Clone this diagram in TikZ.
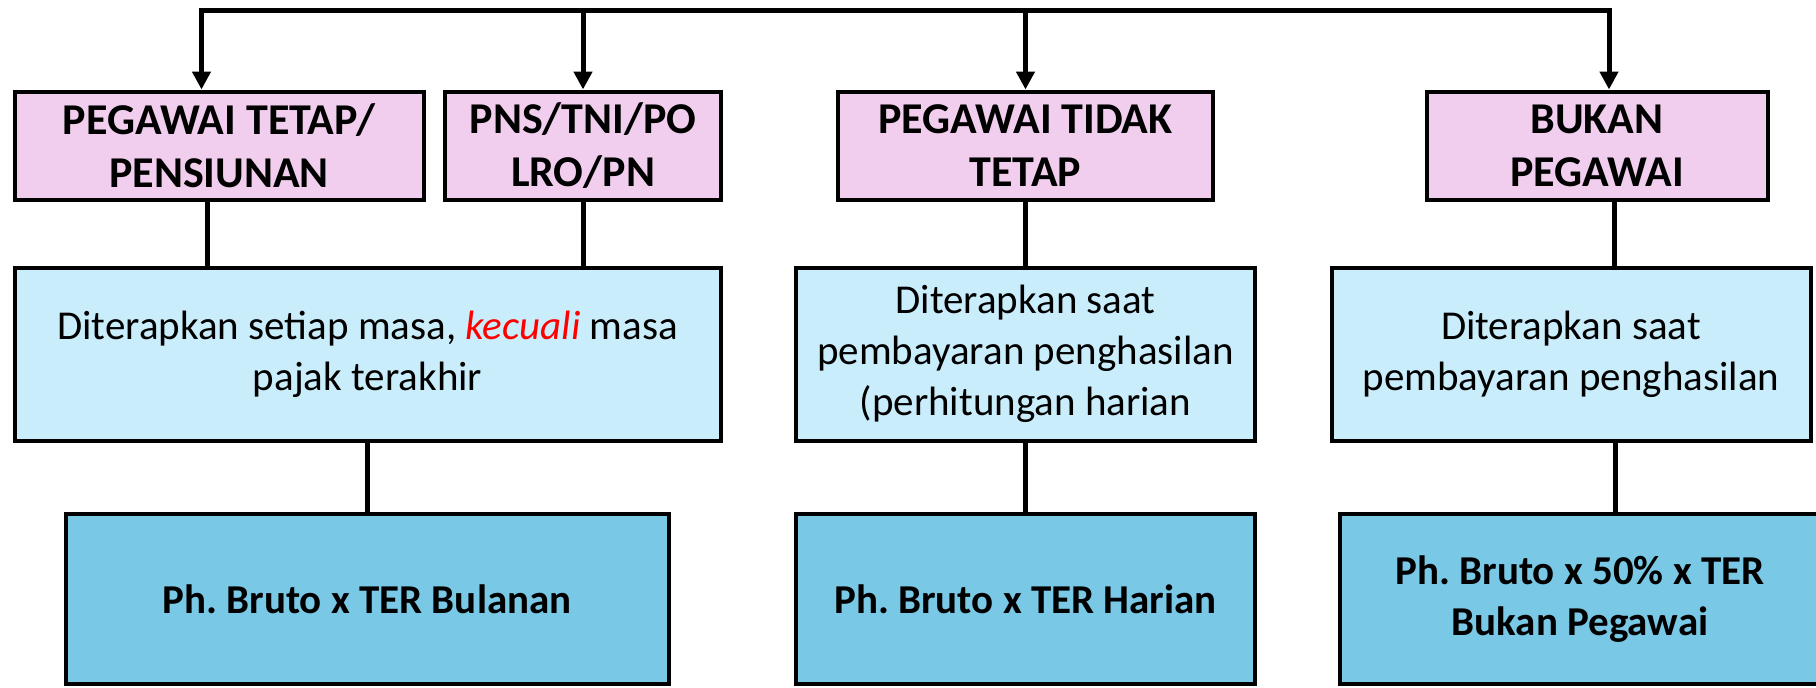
\documentclass[tikz,border=0pt]{standalone}
\usepackage{fontspec}
\setmainfont{Carlito}
\frenchspacing
\usetikzlibrary{arrows.meta}
\definecolor{headpink}{RGB}{241,206,238}
\definecolor{rulelight}{RGB}{202,237,251}
\definecolor{calcblue}{RGB}{120,200,230}
\begin{document}
\begin{tikzpicture}
[
    x=1pt, y=-1pt,
    box/.style={draw=black, line width=4pt, align=center, inner sep=0pt},
    head/.style={box, fill=headpink, minimum height=108pt, font=\fontsize{44}{53}\selectfont\bfseries},
    rule/.style={box, fill=rulelight, minimum height=173pt, font=\fontsize{41}{51}\selectfont},
    calc/.style={box, fill=calcblue, minimum height=170pt, font=\fontsize{41}{51}\selectfont\bfseries},
    conn/.style={line width=5pt},
    arr/.style={line width=5pt, -{Triangle[length=18pt,width=18pt]}},
]
\useasboundingbox (0,0) rectangle (1816,688);
\node[head, minimum width=409pt] (pegtetap) at (219,145.5) {PEGAWAI TETAP/\\PENSIUNAN};
\node[head, minimum width=276pt] (pns) at (583,145.5) {PNS/TNI/PO\\LRO/PN};
\node[head, minimum width=375pt] (pegtidak) at (1025.5,145.5) {PEGAWAI TIDAK\\TETAP};
\node[head, minimum width=341pt] (bukanpeg) at (1597,145.5) {BUKAN\\PEGAWAI};
\node[rule, minimum width=706pt] (masasetiap) at (367.6,354) {Diterapkan setiap masa, {\color{red}\itshape kecuali} masa\\pajak terakhir};
\node[rule, minimum width=459pt] (saatharian) at (1025.5,354) {Diterapkan saat\\pembayaran penghasilan\\(perhitungan harian};
\node[rule, minimum width=479pt] (saatbayar) at (1571,354) {Diterapkan saat\\pembayaran penghasilan};
\node[calc, minimum width=603pt] (terbulan) at (367,599) {Ph. Bruto x TER Bulanan};
\node[calc, minimum width=459pt] (terharian) at (1025.5,599) {Ph. Bruto x TER Harian};
\node[calc, minimum width=480pt] (terbukan) at (1580,599) {Ph. Bruto x 50\% x TER\\Bukan Pegawai};
\coordinate (topleft) at (201.5,10.7);
\coordinate (topright) at (1609,10.7);
\draw[conn, line cap=rect] (topleft) -- (topright);
\draw[arr] (topleft) -- (topleft |- pegtetap.north);
\draw[arr] (topleft -| pns) -- (pns.north);
\draw[arr] (topleft -| pegtidak) -- (pegtidak.north);
\draw[arr] (topright) -- (topright |- bukanpeg.north);
\draw[conn] ([xshift=-12pt]pegtetap.south) -- ([xshift=-12pt]pegtetap.south |- masasetiap.north);
\draw[conn] (pns.south) -- (pns.south |- masasetiap.north);
\draw[conn] (pegtidak.south) -- (saatharian.north);
\draw[conn] ([xshift=17pt]bukanpeg.south) -- ([xshift=17pt]bukanpeg.south |- saatbayar.north);
\draw[conn] (masasetiap.south) -- (masasetiap.south |- terbulan.north);
\draw[conn] (saatharian.south) -- (terharian.north);
\draw[conn] ([xshift=44pt]saatbayar.south) -- ([xshift=44pt]saatbayar.south |- terbukan.north);
\end{tikzpicture}
\end{document}
